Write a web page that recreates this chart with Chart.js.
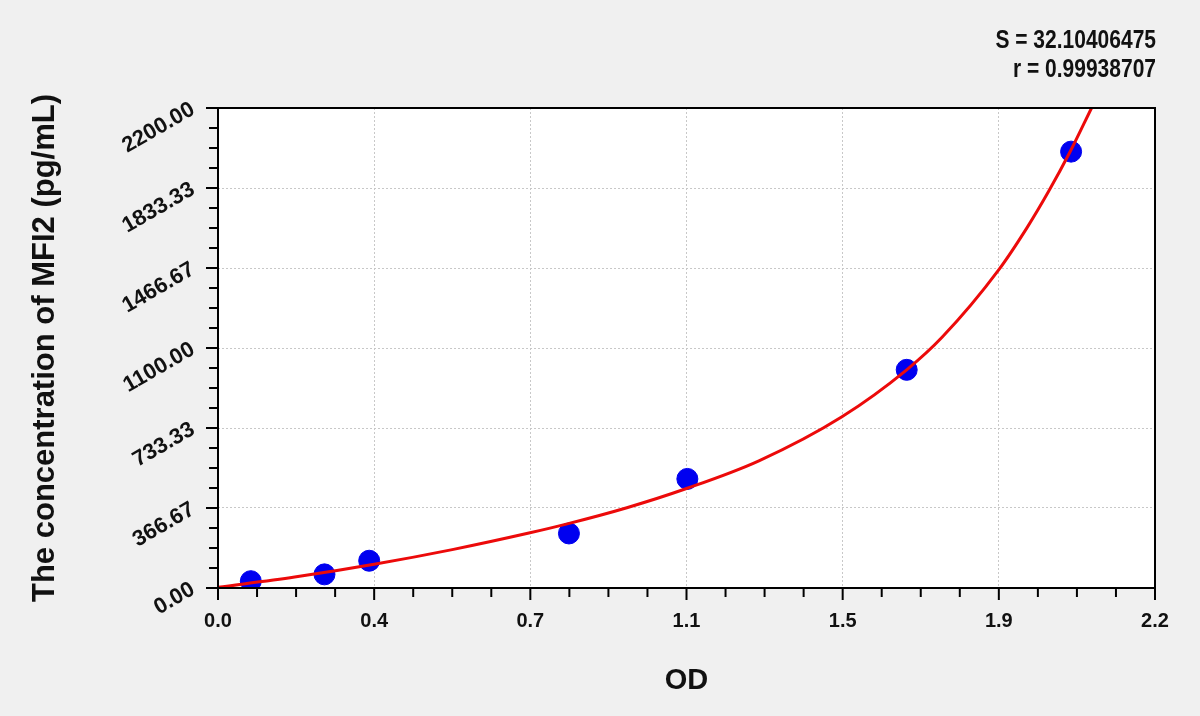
<!DOCTYPE html>
<html>
<head>
<meta charset="utf-8">
<script src="https://cdn.jsdelivr.net/npm/chart.js@4.4.1/dist/chart.umd.min.js"></script>
<style>
  html, body { margin: 0; padding: 0; background: #f0f0f0; }
  #wrap { width: 1200px; height: 716px; }
</style>
</head>
<body>
<div id="wrap"><canvas id="curve" width="1200" height="716"></canvas></div>
<script>
// standard points (OD vs concentration)
const standardOD = [0.077, 0.250, 0.355, 0.824, 1.102, 1.617, 2.003];
const standardConc = [31.25, 62.5, 125, 250, 500, 1000, 2000];

// fitted curve
const fitOD = [0, 0.18, 0.37, 0.55, 0.73, 0.82, 0.96, 1.1, 1.27, 1.465, 1.617, 1.7, 1.833, 1.9, 1.95, 2.0, 2.051];
const fitConc = [3, 50, 110, 176, 252, 294, 368, 456, 583, 785, 1000, 1149, 1458, 1653, 1817, 1997, 2200];

const xTickLabels = ['0.0', '0.4', '0.7', '1.1', '1.5', '1.9', '2.2'];
const yTickLabels = ['0.00', '366.67', '733.33', '1100.00', '1466.67', '1833.33', '2200.00'];
const fitStats = ['S = 32.10406475', 'r = 0.99938707'];

const X_MAX = 2.2, Y_MAX = 2200, STEPS = 24; // 4 minor steps per labelled tick

// grey page, white plot, black frame, tick marks and fit stats
const frame = {
  id: 'frame',
  beforeDraw(chart) {
    const { ctx, chartArea: a } = chart;
    ctx.save();
    ctx.fillStyle = '#f0f0f0';
    ctx.fillRect(0, 0, chart.width, chart.height);
    ctx.fillStyle = '#ffffff';
    ctx.fillRect(a.left, a.top, a.right - a.left, a.bottom - a.top);
    ctx.restore();
  },
  afterDraw(chart) {
    const { ctx, chartArea: a, scales } = chart;
    ctx.save();
    ctx.strokeStyle = '#000';
    ctx.lineWidth = 2;
    ctx.strokeRect(a.left, a.top, a.right - a.left, a.bottom - a.top);
    scales.x.ticks.forEach((t, i) => {
      const px = scales.x.getPixelForValue(t.value);
      const len = i % 4 === 0 ? 12 : 9;
      ctx.beginPath();
      ctx.moveTo(px, a.bottom);
      ctx.lineTo(px, a.bottom + len);
      ctx.stroke();
    });
    scales.y.ticks.forEach((t, i) => {
      const py = scales.y.getPixelForValue(t.value);
      const len = i % 4 === 0 ? 12 : 9;
      ctx.beginPath();
      ctx.moveTo(a.left, py);
      ctx.lineTo(a.left - len, py);
      ctx.stroke();
    });
    // condensed bold text for the fit statistics
    ctx.fillStyle = '#111';
    ctx.font = 'bold 25px Arial, "Liberation Sans", sans-serif';
    ctx.textAlign = 'right';
    ctx.translate(1156, 0);
    ctx.scale(0.84, 1);
    ctx.fillText(fitStats[0], 0, 48);
    ctx.fillText(fitStats[1], 0, 77);
    ctx.restore();
  }
};

const gridColor = (c) =>
  (c.index % 4 === 0 && c.index !== 0 && c.index !== STEPS) ? '#c8c8c8' : 'rgba(0,0,0,0)';

new Chart(document.getElementById('curve'), {
  type: 'scatter',
  data: {
    datasets: [
      {
        label: 'fit',
        data: fitOD.map((x, i) => ({ x, y: fitConc[i] })),
        showLine: true,
        borderColor: '#ec0a0a',
        borderWidth: 3,
        pointRadius: 0,
        cubicInterpolationMode: 'monotone'
      },
      {
        label: 'standards',
        data: standardOD.map((x, i) => ({ x, y: standardConc[i] })),
        backgroundColor: '#0000f0',
        borderColor: '#0000f0',
        pointRadius: 10.5,
        pointHoverRadius: 10.5
      }
    ]
  },
  options: {
    responsive: false,
    animation: false,
    devicePixelRatio: 1,
    layout: { padding: { top: 108, right: 45, bottom: 0, left: 0 } },
    plugins: { legend: { display: false }, tooltip: { enabled: false } },
    scales: {
      x: {
        type: 'linear',
        min: 0,
        max: X_MAX,
        afterBuildTicks: (s) => {
          s.ticks = Array.from({ length: STEPS + 1 }, (_, i) => ({ value: i * X_MAX / STEPS }));
        },
        afterFit: (s) => { s.height = 128; },
        grid: { color: gridColor, lineWidth: 1, tickColor: 'rgba(0,0,0,0)', tickLength: 12 },
        border: { display: false, dash: [2, 2] },
        ticks: {
          autoSkip: false,
          maxRotation: 0,
          padding: 9,
          color: '#111',
          font: { family: 'Arial, "Liberation Sans", sans-serif', size: 20, weight: 'bold' },
          callback: (v, i) => (i % 4 === 0 ? xTickLabels[i / 4] : '')
        },
        title: {
          display: true,
          text: 'OD',
          color: '#111',
          font: { family: 'Arial, "Liberation Sans", sans-serif', size: 29, weight: 'bold' },
          padding: { top: 0, bottom: 18 }
        }
      },
      y: {
        type: 'linear',
        min: 0,
        max: Y_MAX,
        afterBuildTicks: (s) => {
          s.ticks = Array.from({ length: STEPS + 1 }, (_, i) => ({ value: i * Y_MAX / STEPS }));
        },
        afterFit: (s) => { s.width = 218; },
        grid: { color: gridColor, lineWidth: 1, tickColor: 'rgba(0,0,0,0)', tickLength: 12 },
        border: { display: false, dash: [2, 2] },
        ticks: {
          autoSkip: false,
          minRotation: 30,
          maxRotation: 30,
          padding: 13,
          color: '#111',
          font: { family: 'Arial, "Liberation Sans", sans-serif', size: 22, weight: 'bold' },
          callback: (v, i) => (i % 4 === 0 ? yTickLabels[i / 4] : '')
        },
        title: {
          display: true,
          text: 'The concentration of MFI2 (pg/mL)',
          color: '#111',
          font: { family: 'Arial, "Liberation Sans", sans-serif', size: 31, weight: 'bold' },
          padding: { top: 27, bottom: 0 }
        }
      }
    }
  },
  plugins: [frame]
});
</script>
</body>
</html>
